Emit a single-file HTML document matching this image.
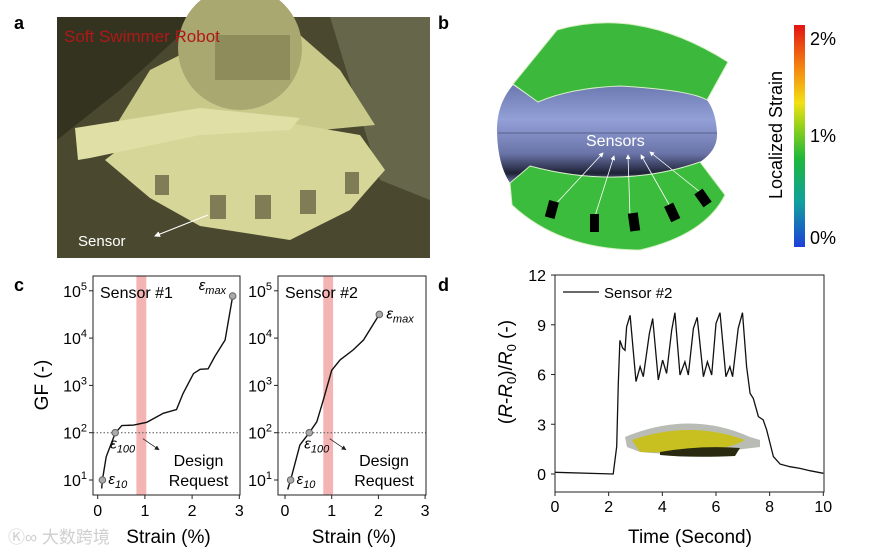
<!DOCTYPE html>
<html><head><meta charset="utf-8"><style>
html,body{margin:0;padding:0;background:#fff;width:880px;height:551px;overflow:hidden}
svg{display:block;font-family:"Liberation Sans","Noto Sans CJK SC",sans-serif}
</style></head><body>
<svg id="fig" width="880" height="551" viewBox="0 0 880 551">
<defs>
<linearGradient id="cbar" x1="0" y1="1" x2="0" y2="0">
<stop offset="0" stop-color="#1f3fd8"/><stop offset="0.2" stop-color="#10a0a0"/><stop offset="0.4" stop-color="#1fb83a"/><stop offset="0.55" stop-color="#9ad21a"/><stop offset="0.65" stop-color="#f2e014"/><stop offset="0.8" stop-color="#f58a10"/><stop offset="1" stop-color="#e21414"/>
</linearGradient>
<linearGradient id="bodyg" x1="0" y1="0" x2="0" y2="1"><stop offset="0" stop-color="#6c78b0"/><stop offset="0.35" stop-color="#93a0d8"/><stop offset="0.7" stop-color="#6a74a8"/><stop offset="0.9" stop-color="#1e2236"/><stop offset="1" stop-color="#6a74a8"/></linearGradient>
<marker id="ah" markerWidth="6" markerHeight="6" refX="5" refY="3" orient="auto"><path d="M0,0 L6,3 L0,6 z" fill="#fff"/></marker>
<marker id="ahk" markerWidth="6" markerHeight="6" refX="5" refY="3" orient="auto"><path d="M0,0 L6,3 L0,6 z" fill="#222"/></marker>
</defs>

<text x="14" y="29" font-size="18" font-weight="bold">a</text>
<text x="438" y="29" font-size="18" font-weight="bold">b</text>
<text x="14" y="291" font-size="18" font-weight="bold">c</text>
<text x="438" y="291" font-size="18" font-weight="bold">d</text>

<g>
<rect x="57" y="17" width="373" height="241" fill="#4a4930"/>
<path d="M57,17 L200,17 L120,90 L57,140 z" fill="#34331f"/>
<path d="M330,17 L430,17 L430,200 L380,180 z" fill="#66664a"/>
<path d="M110,135 L150,70 L200,45 L300,35 L340,70 L375,125 L300,132 L200,112 z" fill="#c9c98a"/>
<path d="M105,160 L150,125 L260,118 L360,135 L385,170 L350,210 L290,240 L200,226 L150,198 z" fill="#d6d699"/>
<circle cx="240" cy="48" r="62" fill="#a8a870"/>
<rect x="215" y="35" width="75" height="45" fill="#8d8c5a"/>
<path d="M75,128 L200,108 L300,118 L290,130 L200,135 L90,158 L78,160 z" fill="#e0e0a6"/>
<g fill="#7e7d56"><rect x="155" y="175" width="14" height="20"/><rect x="210" y="195" width="16" height="24"/><rect x="255" y="195" width="16" height="24"/><rect x="300" y="190" width="16" height="24"/><rect x="345" y="172" width="14" height="22"/></g>
<text x="64" y="42" font-size="17" fill="#b01818">Soft Swimmer Robot</text>
<text x="78" y="246" font-size="15" fill="#fff">Sensor</text>
<line x1="208" y1="215" x2="155" y2="236" stroke="#fff" stroke-width="1" marker-end="url(#ah)"/>
</g>

<g>
<path d="M513,85 Q496,105 497,133 Q498,165 510,183 L530,166 Q620,190 700,162 Q718,150 717,133 Q716,112 707,100 Q690,90 620,86 Q570,88 538,102 Z" fill="url(#bodyg)"/>
<line x1="498" y1="133" x2="717" y2="133" stroke="#4a5078" stroke-width="0.8"/>
<path d="M513,84 L557,30 Q640,6 728,62 L707,100 Q690,90 620,86 Q570,88 538,102 Z" fill="#3cb83c" stroke="#d8f0c8" stroke-width="1"/>
<path d="M510,183 L530,166 Q620,190 700,162 L725,195 Q705,235 640,250 Q560,250 512,205 Z" fill="#3cbc3c" stroke="#d8f0c8" stroke-width="1"/>
<text x="586" y="146" font-size="16" fill="#fff">Sensors</text>
<g stroke="#fff" stroke-width="0.8" fill="none">
<line x1="553" y1="207" x2="603" y2="153" marker-end="url(#ah)"/>
<line x1="595" y1="216" x2="614" y2="156" marker-end="url(#ah)"/>
<line x1="630" y1="216" x2="628" y2="155" marker-end="url(#ah)"/>
<line x1="671" y1="208" x2="641" y2="155" marker-end="url(#ah)"/>
<line x1="705" y1="196" x2="650" y2="152" marker-end="url(#ah)"/>
</g>
<g fill="#000">
<rect x="547" y="201" width="10" height="17" transform="rotate(15 552 209)"/>
<rect x="590" y="214" width="9" height="18"/>
<rect x="629" y="213" width="10" height="18" transform="rotate(-8 634 222)"/>
<rect x="667" y="204" width="10" height="17" transform="rotate(-25 672 212)"/>
<rect x="698" y="190" width="10" height="16" transform="rotate(-35 703 198)"/>
</g>
</g>
<rect x="794" y="25" width="11" height="222" fill="url(#cbar)"/>
<text x="810" y="45" font-size="18">2%</text>
<text x="810" y="142" font-size="18">1%</text>
<text x="810" y="244" font-size="18">0%</text>
<text transform="translate(782,135) rotate(-90)" font-size="18" text-anchor="middle">Localized Strain</text>

<g id="chartC"></g>
<g id="chartD"></g>

<text x="8" y="543" font-size="17" fill="#cfcfcf">Ⓚ∞ 大数跨境</text>
</svg>
<script>
// ---- panel c data ----
const s1Strain=[0.085,0.1,0.18,0.37,0.51,0.76,1.04,1.39,1.67,1.81,2.03,2.17,2.34,2.48,2.70,2.86];
const s1LogGF=[0.82,1.0,1.49,1.99,2.15,2.16,2.22,2.41,2.49,2.83,3.25,3.34,3.35,3.61,3.96,4.89];
const s2Strain=[0.057,0.12,0.32,0.52,0.68,0.82,1.0,1.18,1.46,1.68,2.02];
const s2LogGF=[0.80,1.0,1.74,2.0,2.23,2.69,3.32,3.54,3.75,3.96,4.5];
const s1Markers=[[0.1,1.0],[0.37,2.0],[2.86,4.89]];
const s2Markers=[[0.12,1.0],[0.52,2.0],[2.02,4.5]];
const strainTicks=[0,1,2,3];
const gfTicks=[1,2,3,4,5];
const bandRange=[0.82,1.03];
const thresholdLog=2;
// ---- panel d data ----
const timeVals=[0,2.17,2.3,2.36,2.42,2.52,2.61,2.67,2.8,3.02,3.17,3.29,3.52,3.64,3.85,4.01,4.16,4.35,4.47,4.66,4.84,4.97,5.16,5.3,5.53,5.68,5.84,6.0,6.15,6.37,6.52,6.62,6.83,6.99,7.14,7.27,7.39,7.58,7.76,7.89,8.14,8.39,8.76,9.13,9.5,10];
const respVals=[0.1,0,1.65,5.45,8.06,7.6,7.46,8.87,9.57,5.57,6.47,5.87,8.48,9.38,5.67,6.87,6.07,8.68,9.73,5.97,6.77,5.97,8.78,9.45,5.87,6.77,5.97,9.08,9.73,5.87,6.47,5.87,8.78,9.73,6.47,4.86,4.56,3.46,3.26,2.65,1.05,0.6,0.44,0.34,0.2,0.04];
const timeTicks=[0,2,4,6,8,10];
const respTicks=[0,3,6,9,12];

const NS="http://www.w3.org/2000/svg";
function mk(parent,tag,attrs,txt){const e=document.createElementNS(NS,tag);for(const k in attrs)e.setAttribute(k,attrs[k]);if(txt!=null)e.textContent=txt;parent.appendChild(e);return e;}

const gC=document.getElementById('chartC');
const yTop=276,yBot=495;
function ly(v){return 480-(v-1)*47.3;}
function drawGF(x0,x1,sx0,sxUnit,strain,logs,markers,name,labels){
  const sx=v=>sx0+v*sxUnit;
  const band=mk(gC,'rect',{x:sx(bandRange[0]),y:yTop,width:sx(bandRange[1])-sx(bandRange[0]),height:yBot-yTop,fill:'#f4b4b4'});
  
  
  const th=mk(gC,'line',{x1:x0,x2:x1,y1:ly(thresholdLog),y2:ly(thresholdLog),stroke:'#555','stroke-width':1,'stroke-dasharray':'1.5,2'});
  
  
  const box=mk(gC,'rect',{x:x0,y:yTop,width:x1-x0,height:yBot-yTop,fill:'none',stroke:'#222','stroke-width':1});
  
  
  strainTicks.forEach(t=>{
    mk(gC,'line',{x1:sx(t),x2:sx(t),y1:yBot,y2:yBot+4,stroke:'#222'});
    const tl=mk(gC,'text',{x:sx(t),y:yBot+21,'font-size':16,'text-anchor':'middle'},t);
    
    
  });
  gfTicks.forEach(t=>{
    mk(gC,'line',{x1:x0-4,x2:x0,y1:ly(t),y2:ly(t),stroke:'#222'});
    const tl=mk(gC,'text',{x:x0-6,y:ly(t)+6,'font-size':16,'text-anchor':'end'});
    
    
    mk(tl,'tspan',{},'10');
    mk(tl,'tspan',{dy:-7,'font-size':11},String(t));
  });
  const d=strain.map((v,i)=>(i?'L':'M')+sx(v).toFixed(1)+','+ly(logs[i]).toFixed(1)).join(' ');
  const p=mk(gC,'path',{d:d,fill:'none',stroke:'#111','stroke-width':1.4});
  
  
  markers.forEach(m=>{
    const c=mk(gC,'circle',{cx:sx(m[0]),cy:ly(m[1]),r:3.3,fill:'#aaa',stroke:'#666'});
    
    
  });
  const t=mk(gC,'text',{x:x0+7,y:298,'font-size':16},labels.title);
  
  
  function eps(x,y,sub){const e=mk(gC,'text',{x:x,y:y,'font-size':15,'font-style':'italic'});mk(e,'tspan',{},'ε');mk(e,'tspan',{dy:4,'font-size':11},sub);return e;}
  const e10=eps(sx(markers[0][0])+6,ly(markers[0][1])+4,'10');
  
  
  const e100=eps(sx(markers[1][0])-5,ly(markers[1][1])+16,'100');
  
  
  const em=labels.maxLeft?eps(sx(markers[2][0])-34,ly(markers[2][1])-6,'max'):eps(sx(markers[2][0])+7,ly(markers[2][1])+4,'max');
  
  
  const ar=mk(gC,'line',{x1:sx(1.0)-2,y1:ly(2)+6,x2:sx(1.0)+14,y2:ly(2)+17,stroke:'#222','stroke-width':0.8,'marker-end':'url(#ahk)'});
  
  
  const cx=(x0+x1)/2+32;
  const dr=mk(gC,'text',{x:cx,y:466,'font-size':16,'text-anchor':'middle'},'Design');
  
  
  const rq=mk(gC,'text',{x:cx,y:486,'font-size':16,'text-anchor':'middle'},'Request');
  
  
  const xt=mk(gC,'text',{x:(x0+x1)/2+2,y:543,'font-size':19,'text-anchor':'middle'},'Strain (%)');
  
  
}
drawGF(93,240,97.7,47.2,s1Strain,s1LogGF,s1Markers,'sensor1',{title:'Sensor #1',maxLeft:true});
drawGF(278,426,285,46.7,s2Strain,s2LogGF,s2Markers,'sensor2',{title:'Sensor #2',maxLeft:false});
const gft=mk(gC,'text',{transform:'translate(48,385) rotate(-90)','font-size':19,'text-anchor':'middle'},'GF (-)');



// ---- panel d ----
const gD=document.getElementById('chartD');
const dx=v=>555+v*26.83, dy=v=>474-v*16.58;
const inset=mk(gD,'g',{});


mk(inset,'path',{d:'M625,437 Q690,410 750,437 L760,440 L760,447 L735,450 Q700,458 640,452 L627,447 z',fill:'#b8bcb4'});
mk(inset,'path',{d:'M632,440 Q690,420 745,440 Q720,455 640,452 z',fill:'#c8c020'});
mk(inset,'path',{d:'M660,452 Q700,445 740,448 L735,456 Q690,458 660,455 z',fill:'#2a2a10'});
const fr=mk(gD,'rect',{x:555,y:275,width:269,height:217,fill:'none',stroke:'#222'});


timeTicks.forEach(t=>{
  mk(gD,'line',{x1:dx(t),x2:dx(t),y1:492,y2:496,stroke:'#222'});
  const tl=mk(gD,'text',{x:dx(t),y:512,'font-size':16,'text-anchor':'middle'},t);
  
  
});
respTicks.forEach(t=>{
  mk(gD,'line',{x1:551,x2:555,y1:dy(t),y2:dy(t),stroke:'#222'});
  const tl=mk(gD,'text',{x:546,y:dy(t)+6,'font-size':16,'text-anchor':'end'},t);
  
  
});
const rd=timeVals.map((v,i)=>(i?'L':'M')+dx(v).toFixed(1)+','+dy(respVals[i]).toFixed(1)).join(' ');
const rp=mk(gD,'path',{d:rd,fill:'none',stroke:'#111','stroke-width':1.3});


const lgl=mk(gD,'line',{x1:563,x2:599,y1:292,y2:292,stroke:'#111','stroke-width':1.3});


const lgt=mk(gD,'text',{x:604,y:298,'font-size':15},'Sensor #2');


const dyt=mk(gD,'text',{transform:'translate(512,372) rotate(-90)','font-size':19,'text-anchor':'middle'});


mk(dyt,'tspan',{},'(');mk(dyt,'tspan',{'font-style':'italic'},'R');mk(dyt,'tspan',{},'-');mk(dyt,'tspan',{'font-style':'italic'},'R');
mk(dyt,'tspan',{dy:4,'font-size':13},'0');mk(dyt,'tspan',{dy:-4},')/');mk(dyt,'tspan',{'font-style':'italic'},'R');
mk(dyt,'tspan',{dy:4,'font-size':13},'0');mk(dyt,'tspan',{dy:-4},' (-)');
const dxt=mk(gD,'text',{x:690,y:543,'font-size':19,'text-anchor':'middle'},'Time (Second)');


</script>
</body></html>
